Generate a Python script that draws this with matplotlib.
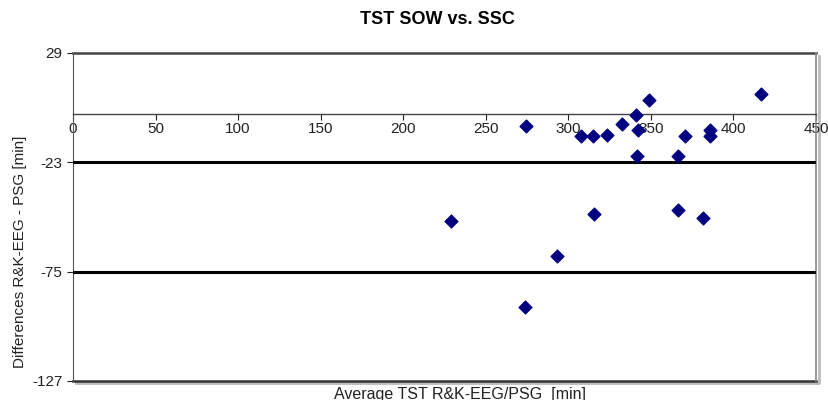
import matplotlib.pyplot as plt

# mean of the two methods (x) and their difference (y), in minutes
avg_tst = [416.5, 349.0, 341.0, 274.5, 332.5, 342.0, 323.5, 315.0, 307.5,
           370.5, 386.0, 385.5, 341.5, 366.5, 229.0, 315.5, 366.5, 381.5,
           293.0, 274.0]
diff_tst = [9.4, 6.5, -0.7, -5.9, -5.0, -7.4, -9.8, -10.7, -10.7,
            -10.7, -7.8, -10.7, -19.8, -19.8, -50.9, -47.6, -45.6, -49.5,
            -67.7, -91.6]

x_ticks = [0, 50, 100, 150, 200, 250, 300, 350, 400, 450]
y_ticks = [29, -23, -75, -127]
limit_lines = [-23, -75]

plt.rcParams['font.family'] = ['Liberation Sans Narrow', 'Liberation Sans', 'DejaVu Sans']
plt.rcParams['axes.unicode_minus'] = False

fig = plt.figure(figsize=(8.29, 4.0), dpi=100)
ax = fig.add_axes([73 / 829, 1 - 381 / 400, 743 / 829, 328 / 400])

ax.scatter(avg_tst, diff_tst, marker='D', s=42, color='#000080', zorder=5)

for yl in limit_lines:
    ax.axhline(yl, color='black', lw=2.2, zorder=3)

ax.set_xlim(0, 450)
ax.set_ylim(-127, 29)
ax.set_xticks(x_ticks)
ax.set_yticks(y_ticks)
ax.tick_params(labelsize=11, colors='#222222', length=4, width=0.8)
ax.tick_params(axis='x', direction='out', pad=2)

ax.spines['bottom'].set_position(('data', 0))
ax.spines['bottom'].set_color('#444444')
ax.spines['bottom'].set_linewidth(1.0)
ax.spines['left'].set_color('#555555')
ax.spines['top'].set_visible(False)
ax.spines['right'].set_visible(False)

# plot area frame: dark top/bottom, grey right edge, shadow lower right
tr = ax.transAxes
ax.plot([0.004, 1.004, 1.004], [-0.007, -0.007, 0.99], transform=tr,
        color='#bbbbbb', lw=2.0, clip_on=False, zorder=1)
ax.plot([0, 1], [1, 1], transform=tr, color='#444444', lw=1.8, clip_on=False, zorder=2)
ax.plot([0, 1], [0, 0], transform=tr, color='#333333', lw=1.8, clip_on=False, zorder=2)
ax.plot([1, 1], [0, 1], transform=tr, color='#888888', lw=1.2, clip_on=False, zorder=2)

fig.text(437 / 829, 1 - 20 / 400, 'TST SOW vs. SSC', ha='center', va='center',
         fontsize=13, fontweight='bold', family=['Liberation Sans', 'DejaVu Sans'])
fig.text(20 / 829, 1 - 252 / 400, 'Differences R&K-EEG - PSG [min]', rotation=90,
         ha='center', va='center', fontsize=11, color='#222222',
         family=['Liberation Sans', 'DejaVu Sans'])
fig.text(460 / 829, 1 - 394 / 400, 'Average TST R&K-EEG/PSG  [min]', ha='center',
         va='center', fontsize=11.5, color='#222222')

fig.savefig('out.png', dpi=100)
